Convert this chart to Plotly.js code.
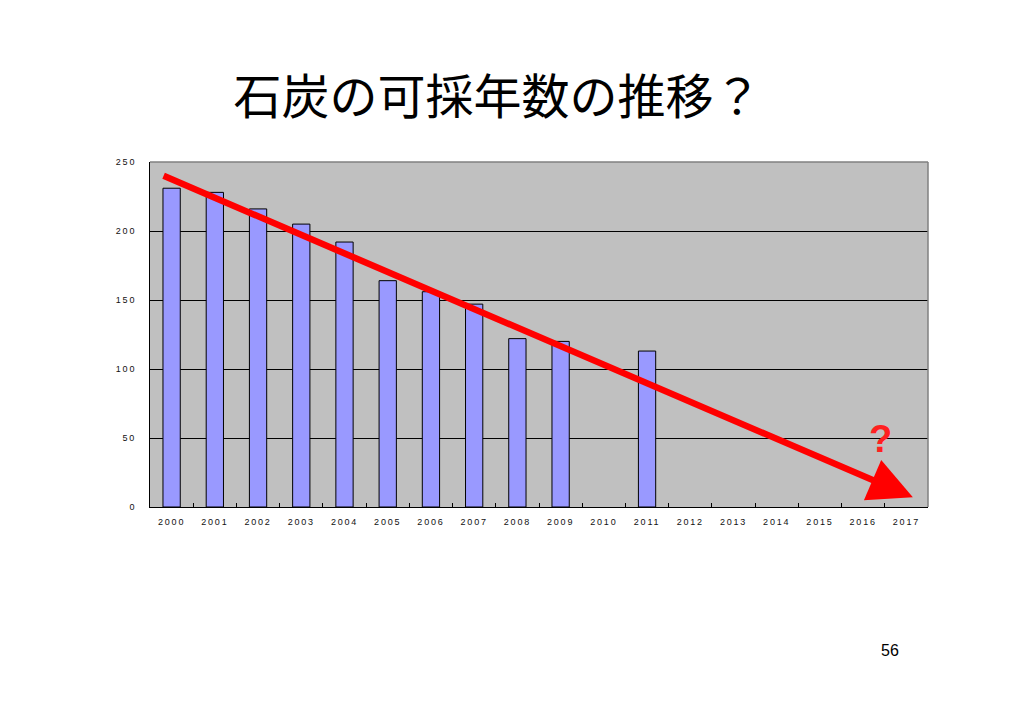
<!DOCTYPE html>
<html><head><meta charset="utf-8">
<script src="https://cdn.plot.ly/plotly-3.0.1.min.js"></script>
<style>
body{margin:0;background:#fff;}
#chart{width:1030px;height:728px;}
.xtick text,.ytick text{letter-spacing:1.8px;}
</style>
</head><body><div id="chart"></div>
<script>
const years = ['2000','2001','2002','2003','2004','2005','2006','2007','2008','2009','2010','2011','2012','2013','2014','2015','2016','2017'];
const reserveYears = [231,228,216,205,192,164,156,147,122,120,null,113,null,null,null,null,null,null];
const yTicks = [0,50,100,150,200,250];
const trendStart = [-0.22, 240.5];
const trendEnd = [17.15, 7];
const titleText = '石炭の可採年数の推移？';
const pageNo = '56';

const trace = {
  type:'bar', x:years, y:reserveYears, width:0.4,
  marker:{color:'#9999FF', line:{color:'#000', width:1}},
  hoverinfo:'x+y'
};
const layout = {
  width:1030, height:728,
  margin:{l:150, r:102, t:162, b:221, pad:0},
  paper_bgcolor:'#fff', plot_bgcolor:'#C0C0C0',
  showlegend:false,
  font:{family:'Arial, "Liberation Sans", sans-serif', color:'#000'},
  title:{text:titleText, x:0.483, xanchor:'center', y:0.866, yanchor:'middle',
         font:{family:'"Noto Sans CJK JP"', size:48, color:'#000'}},
  xaxis:{type:'category', categoryorder:'array', categoryarray:years, range:[-0.5,17.5],
         showline:true, linecolor:'#000', linewidth:1,
         ticks:'inside', ticklen:4, tickcolor:'#000', tickson:'boundaries', ticklabelstandoff:6,
         showgrid:false, tickfont:{size:9, color:'#111'}, zeroline:false, fixedrange:true},
  yaxis:{range:[0,250], tickvals:yTicks, ticktext:yTicks.map(String),
         showline:true, linecolor:'#000', linewidth:1,
         showgrid:true, gridcolor:'#000', gridwidth:1,
         ticks:'', ticklabelstandoff:11, tickfont:{size:9, color:'#111'}, zeroline:false, fixedrange:true},
  shapes:[
    {type:'line', xref:'paper', yref:'paper', x0:0, x1:1, y0:1, y1:1, line:{color:'#808080', width:1.5}},
    {type:'line', xref:'paper', yref:'paper', x0:1, x1:1, y0:0, y1:1, line:{color:'#808080', width:1.5}}
  ],
  annotations:[
    {xref:'x', yref:'y', axref:'x', ayref:'y', x:trendEnd[0], y:trendEnd[1], ax:trendStart[0], ay:trendStart[1],
     showarrow:true, arrowhead:2, arrowsize:1.35, arrowwidth:6.5, arrowcolor:'#FF0000', text:''},
    {xref:'x', yref:'y', x:16.4, y:49, text:'<b>?</b>', showarrow:false,
     font:{family:'Arial, "Liberation Sans"', size:38, color:'#FF2020'}},
    {xref:'paper', yref:'paper', x:0.951, y:-0.415, xanchor:'center', yanchor:'middle', text:pageNo, showarrow:false,
     font:{family:'Arial, "Liberation Sans"', size:16, color:'#000'}}
  ]
};
Plotly.newPlot('chart',[trace],layout,{displayModeBar:false, staticPlot:true});
</script></body></html>
